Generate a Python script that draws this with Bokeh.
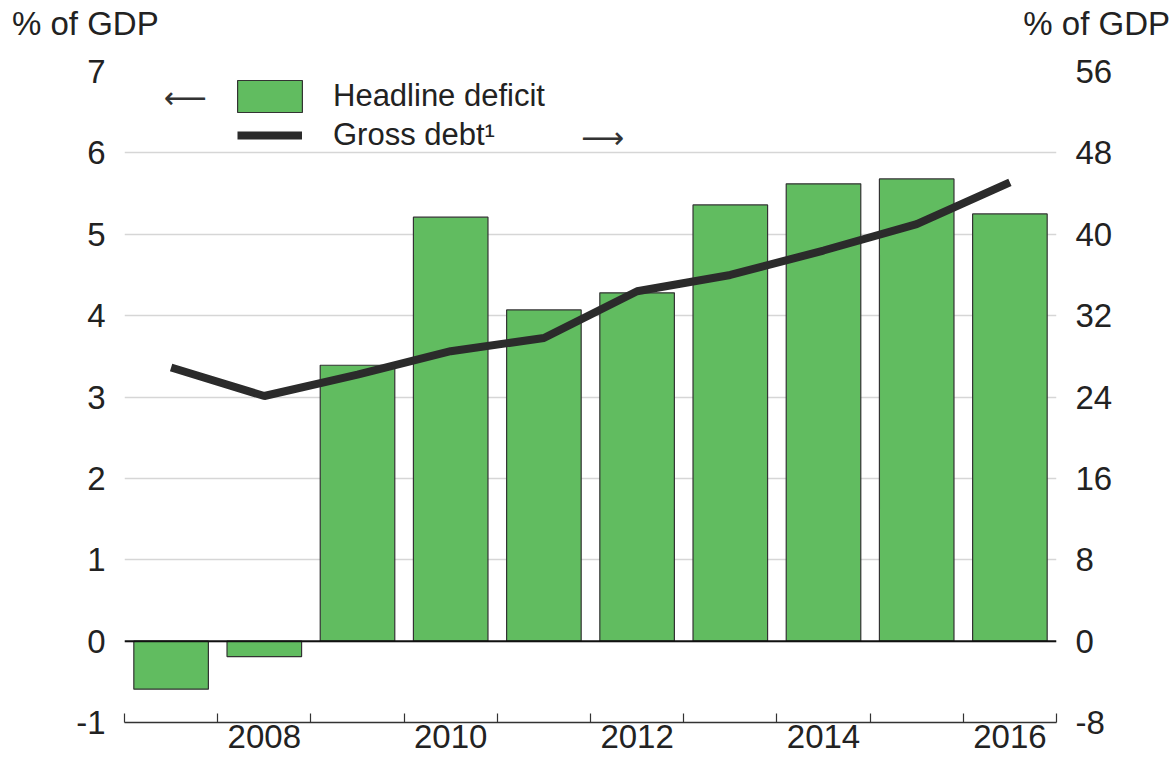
from bokeh.plotting import figure
from bokeh.layouts import column
from bokeh.models import (Range1d, LinearAxis, FixedTicker, Span, Legend, LegendItem, Label, Div)
from bokeh.embed import file_html
from bokeh.resources import INLINE

years = [2007, 2008, 2009, 2010, 2011, 2012, 2013, 2014, 2015, 2016]
headline_deficit = [-0.59, -0.19, 3.39, 5.21, 4.07, 4.28, 5.36, 5.62, 5.68, 5.25]
gross_debt = [26.9, 24.1, 26.2, 28.5, 29.8, 34.4, 36.0, 38.4, 41.0, 45.1]
left_ticks = [-1, 0, 1, 2, 3, 4, 5, 6, 7]
right_ticks = [-8, 0, 8, 16, 24, 32, 40, 48, 56]
year_labels = [2008, 2010, 2012, 2014, 2016]
year_bounds = [2006.5 + i for i in range(11)]
unit_label = "% of GDP"

FONT = "Liberation Sans"
TXT = "#222222"
TICK_FS = "33px"
LEG_FS = "31px"

W = 1174
HEAD_H = 45
MAIN_H = 717

# ---- header with the unit labels ----
span_style = ("position:absolute;top:7px;font-family:'Liberation Sans';font-size:33px;"
              "line-height:33px;color:#222222;white-space:nowrap;")
head = Div(text=(f'<div style="position:relative;width:{W}px;height:{HEAD_H}px;margin:0;padding:0;">'
                 f'<span style="{span_style}left:12px;">{unit_label}</span>'
                 f'<span style="{span_style}right:4px;">{unit_label}</span></div>'),
           width=W, height=HEAD_H, margin=(0, 0, 0, 0))

# ---- main chart ----
p = figure(width=W, height=MAIN_H, output_backend="svg", toolbar_location=None,
           x_range=Range1d(2006.5, 2016.5), y_range=Range1d(-1, 7),
           min_border_left=124, min_border_right=118, min_border_top=26, min_border_bottom=40,
           y_axis_location=None, x_axis_location=None, margin=(0, 0, 0, 0))
p.outline_line_color = None
p.extra_y_ranges = {"right": Range1d(-8, 56)}

p.xgrid.visible = False
p.ygrid.ticker = FixedTicker(ticks=left_ticks)
p.ygrid.grid_line_color = "#d6d6d6"
p.ygrid.grid_line_width = 1.5

ly = LinearAxis(ticker=FixedTicker(ticks=left_ticks))
ly.major_label_overrides = {-1: "-1"}
ry = LinearAxis(y_range_name="right", ticker=FixedTicker(ticks=right_ticks))
ry.major_label_overrides = {-8: "-8"}
for ax in (ly, ry):
    ax.axis_line_color = None
    ax.major_tick_line_color = None
    ax.minor_tick_line_color = None
    ax.major_tick_out = 0
    ax.major_tick_in = 0
    ax.major_label_standoff = 19
    ax.major_label_text_font = FONT
    ax.major_label_text_font_size = TICK_FS
    ax.major_label_text_color = TXT
p.add_layout(ly, "left")
p.add_layout(ry, "right")

bx = LinearAxis(ticker=FixedTicker(ticks=year_labels, minor_ticks=year_bounds))
bx.axis_line_color = "#333333"
bx.axis_line_width = 1.5
bx.major_tick_in = 0
bx.major_tick_out = 0
bx.major_tick_line_color = None
bx.minor_tick_in = 9
bx.minor_tick_out = 0
bx.minor_tick_line_color = "#333333"
bx.minor_tick_line_width = 1.2
bx.major_label_standoff = 2
bx.major_label_text_font = FONT
bx.major_label_text_font_size = TICK_FS
bx.major_label_text_color = TXT
p.add_layout(bx, "below")

bars = p.vbar(x=years, top=headline_deficit, bottom=0, width=0.8,
              fill_color="#61bc60", line_color="#333333", line_width=1.2)
p.add_layout(Span(location=0, dimension="width", line_color="#111111", line_width=2))
line = p.line(x=years, y=gross_debt, y_range_name="right", line_color="#2b2b2b", line_width=8)


def make_legend(item, loc, gw, gh, standoff):
    lg = Legend(items=[item], location=loc)
    lg.glyph_width = gw
    lg.glyph_height = gh
    lg.label_standoff = standoff
    lg.padding = 0
    lg.margin = 0
    lg.spacing = 0
    lg.border_line_color = None
    lg.background_fill_alpha = 0
    lg.label_text_font = FONT
    lg.label_text_font_size = LEG_FS
    lg.label_text_color = TXT
    lg.label_text_baseline = "middle"
    return lg


p.add_layout(make_legend(LegendItem(label="Headline deficit", renderers=[bars]),
                         (105, 606), 81, 40, 23), "center")
p.add_layout(make_legend(LegendItem(label="Gross debt\u00b9", renderers=[line]),
                         (113, 569), 65, 32, 31), "center")

p.add_layout(Label(x=2006.5, y=7, x_offset=61, y_offset=-26, text="\u27f5",
                   text_font="DejaVu Sans", text_font_size="30px", text_color="#333333",
                   text_align="center", text_baseline="middle"))
p.add_layout(Label(x=2006.5, y=7, x_offset=478, y_offset=-66, text="\u27f6",
                   text_font="DejaVu Sans", text_font_size="30px", text_color="#333333",
                   text_align="center", text_baseline="middle"))

layout = column(head, p, spacing=0)
open("out.html", "w").write(file_html(layout, INLINE))
